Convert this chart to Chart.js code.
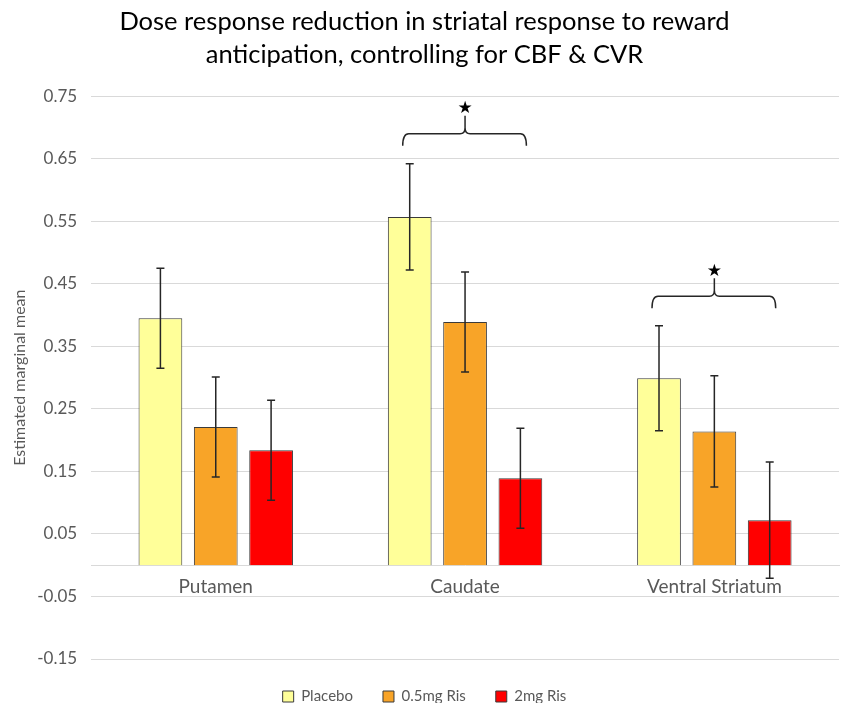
<!DOCTYPE html>
<html>
<head>
<meta charset="utf-8">
<script src="https://cdn.jsdelivr.net/npm/chart.js@4.4.1/dist/chart.umd.min.js"></script>
<style>
    html, body { margin: 0; padding: 0; background: #fff; }
    #wrap { width: 841px; height: 703px; }
</style>
</head>
<body>
<div id="wrap"><canvas id="dose-chart"></canvas></div>
<script>
const regions = ['Putamen', 'Caudate', 'Ventral Striatum'];
const doseLabels = ['Placebo', '0.5mg Ris', '2mg Ris'];

// estimated marginal means
const placeboMeans = [0.395, 0.557, 0.299];
const lowDoseMeans = [0.221, 0.389, 0.214];
const highDoseMeans = [0.184, 0.139, 0.072];

// error bar half-widths
const placeboErr = [0.080, 0.085, 0.084];
const lowDoseErr = [0.080, 0.080, 0.089];
const highDoseErr = [0.080, 0.080, 0.093];

const yTicks = [-0.15, -0.05, 0.05, 0.15, 0.25, 0.35, 0.45, 0.55, 0.65, 0.75];

// significance brackets (region + height of bracket line)
const sigRegions = ['Caudate', 'Ventral Striatum'];
const sigLevels = [0.69, 0.43];

const barColors = ['#FFFF99', '#F8A428', '#FF0000'];
const fontFamily = 'Lato, "Open Sans", sans-serif';

// draw error bars on top of each bar
const errorBarPlugin = {
    id: 'errorBars',
    afterDatasetsDraw(chart) {
        const ctx = chart.ctx;
        const yScale = chart.scales.y;
        ctx.save();
        ctx.strokeStyle = '#262626';
        ctx.lineWidth = 1.5;
        chart.data.datasets.forEach((ds, i) => {
            const meta = chart.getDatasetMeta(i);
            meta.data.forEach((bar, j) => {
                const v = ds.data[j];
                const e = ds.errors[j];
                const yTop = yScale.getPixelForValue(v + e);
                const yBot = yScale.getPixelForValue(v - e);
                const x = bar.x;
                ctx.beginPath();
                ctx.moveTo(x, yTop);
                ctx.lineTo(x, yBot);
                ctx.moveTo(x - 4, yTop);
                ctx.lineTo(x + 4, yTop);
                ctx.moveTo(x - 4, yBot);
                ctx.lineTo(x + 4, yBot);
                ctx.stroke();
            });
        });
        ctx.restore();
    }
};

// curly brackets with a star above the significant regions
const bracketPlugin = {
    id: 'sigBrackets',
    afterDatasetsDraw(chart) {
        const ctx = chart.ctx;
        const xScale = chart.scales.x;
        const yScale = chart.scales.y;
        const first = chart.getDatasetMeta(0);
        const last = chart.getDatasetMeta(chart.data.datasets.length - 1);
        ctx.save();
        ctx.strokeStyle = '#262626';
        ctx.lineWidth = 1.5;
        sigRegions.forEach((name, k) => {
            const idx = regions.indexOf(name);
            const x0 = first.data[idx].x - 7;
            const x1 = last.data[idx].x + 6;
            const mid = xScale.getPixelForValue(idx);
            const y = yScale.getPixelForValue(sigLevels[k]);
            ctx.beginPath();
            ctx.moveTo(x0, y + 12);
            ctx.quadraticCurveTo(x0, y, x0 + 6, y);
            ctx.lineTo(mid - 5, y);
            ctx.quadraticCurveTo(mid, y, mid, y - 6);
            ctx.quadraticCurveTo(mid, y, mid + 5, y);
            ctx.lineTo(x1 - 6, y);
            ctx.quadraticCurveTo(x1, y, x1, y + 12);
            ctx.moveTo(mid, y - 6);
            ctx.lineTo(mid, y - 18);
            ctx.stroke();

            ctx.fillStyle = '#000';
            ctx.font = '17px "DejaVu Sans"';
            ctx.textAlign = 'center';
            ctx.textBaseline = 'middle';
            ctx.fillText('\u2605', mid, y - 25);
        });
        ctx.restore();
    }
};

function buildDatasets() {
    const means = [placeboMeans, lowDoseMeans, highDoseMeans];
    const errs = [placeboErr, lowDoseErr, highDoseErr];
    return doseLabels.map((label, i) => ({
        label: label,
        data: means[i],
        errors: errs[i],
        backgroundColor: barColors[i],
        borderColor: '#3a3a3a',
        borderWidth: 1,
        categoryPercentage: 0.666,
        barPercentage: 0.79
    }));
}

const ctx = document.getElementById('dose-chart').getContext('2d');
new Chart(ctx, {
    type: 'bar',
    data: {
        labels: regions,
        datasets: buildDatasets()
    },
    plugins: [errorBarPlugin, bracketPlugin],
    options: {
        responsive: true,
        maintainAspectRatio: false,
        animation: false,
        layout: {
            padding: { left: 10, right: 2, top: 0, bottom: -11 }
        },
        plugins: {
            title: {
                display: true,
                text: ['Dose response reduction in striatal response to reward',
                       'anticipation, controlling for CBF & CVR'],
                color: '#000',
                font: { family: fontFamily, size: 25.5, weight: 'normal', lineHeight: 1.3 },
                padding: { top: 5, bottom: 25 }
            },
            legend: {
                position: 'bottom',
                labels: {
                    color: '#595959',
                    font: { family: fontFamily, size: 15 },
                    boxWidth: 11,
                    boxHeight: 11,
                    padding: 30
                }
            },
            tooltip: { enabled: false }
        },
        scales: {
            x: {
                position: { y: 0 },
                grid: { display: false },
                border: { color: '#d9d9d9', width: 1 },
                ticks: {
                    color: '#595959',
                    font: { family: fontFamily, size: 19 },
                    padding: 2
                }
            },
            y: {
                min: -0.15,
                max: 0.75,
                afterBuildTicks: function(scale) {
                    scale.ticks = yTicks.map(v => ({ value: v }));
                },
                grid: { color: '#d9d9d9', lineWidth: 1, drawTicks: false },
                border: { display: false },
                ticks: {
                    color: '#595959',
                    font: { family: fontFamily, size: 17 },
                    padding: 14,
                    callback: function(value) {
                        return value.toFixed(2);
                    }
                },
                title: {
                    display: true,
                    text: 'Estimated marginal mean',
                    color: '#595959',
                    font: { family: fontFamily, size: 16 },
                    padding: { top: 0, bottom: -6 }
                }
            }
        }
    }
});
</script>
</body>
</html>
